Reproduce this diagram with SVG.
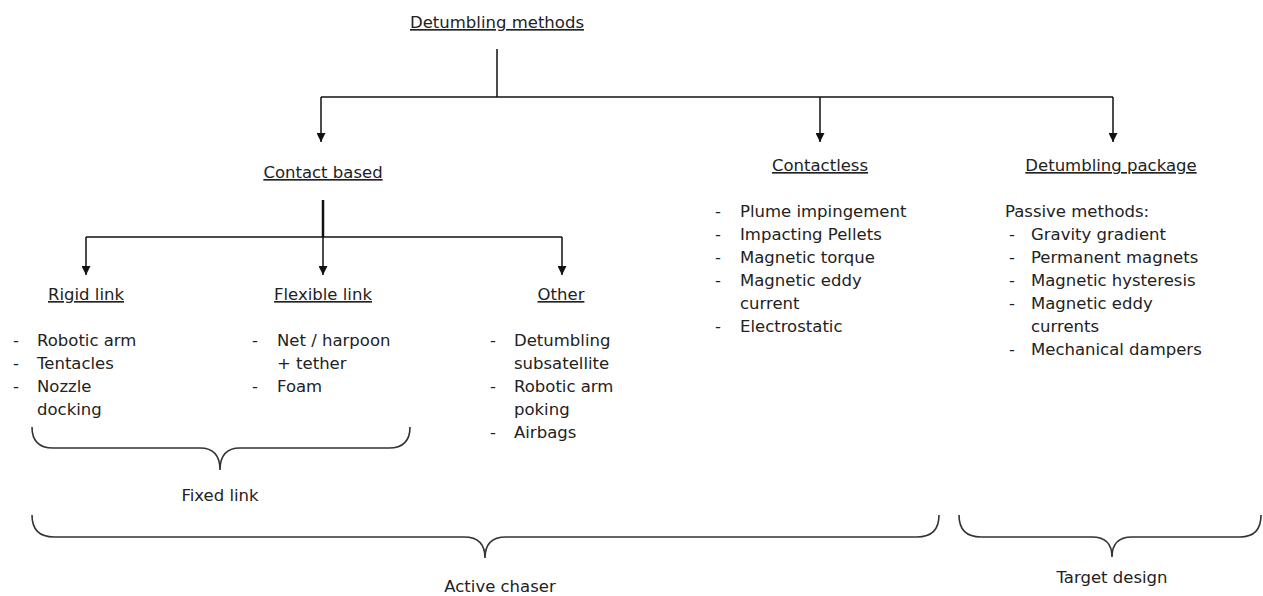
<svg xmlns="http://www.w3.org/2000/svg" width="1263" height="596" viewBox="0 0 1263 596">
<style>
text{font-family:"DejaVu Sans","Verdana",sans-serif;font-size:16.5px;fill:#222}
.h{text-anchor:middle;text-decoration:underline}
.c{text-anchor:middle}
.ln{stroke:#111;stroke-width:1.5;fill:none}
.br{stroke:#333;stroke-width:1.6;fill:none}
</style>
<defs>
<marker id="ah" viewBox="0 0 10 10" refX="10" refY="5" markerWidth="11" markerHeight="9" markerUnits="userSpaceOnUse" orient="auto">
<path d="M0,0 L10,5 L0,10 z" fill="#111"/>
</marker>
</defs>
<rect width="1263" height="596" fill="#fff"/>
<g id="connectors">
<path class="ln" d="M497,49 V97"/>
<path class="ln" d="M321,97 H1113"/>
<path class="ln" d="M321,97 V142" marker-end="url(#ah)"/>
<path class="ln" d="M820,97 V142" marker-end="url(#ah)"/>
<path class="ln" d="M1113,97 V142" marker-end="url(#ah)"/>
<path class="ln" d="M323,200 V237" style="stroke-width:2.5"/>
<path class="ln" d="M86,237 H562"/>
<path class="ln" d="M86,237 V275" marker-end="url(#ah)"/>
<path class="ln" d="M323,237 V275" marker-end="url(#ah)"/>
<path class="ln" d="M562,237 V275" marker-end="url(#ah)"/>
</g>
<g id="root"><text class="h" x="497" y="28">Detumbling methods</text></g>
<g id="contact-based"><text class="h" x="323" y="178">Contact based</text></g>
<g id="contactless">
<text class="h" x="820" y="171">Contactless</text>
<text x="715" y="217">-</text><text x="740" y="217">Plume impingement</text>
<text x="715" y="240">-</text><text x="740" y="240">Impacting Pellets</text>
<text x="715" y="263">-</text><text x="740" y="263">Magnetic torque</text>
<text x="715" y="286">-</text><text x="740" y="286">Magnetic eddy</text>
<text x="740" y="309">current</text>
<text x="715" y="332">-</text><text x="740" y="332">Electrostatic</text>
</g>
<g id="detumbling-package">
<text class="h" x="1111" y="171">Detumbling package</text>
<text x="1005" y="217">Passive methods:</text>
<text x="1009" y="240">-</text><text x="1031" y="240">Gravity gradient</text>
<text x="1009" y="263">-</text><text x="1031" y="263">Permanent magnets</text>
<text x="1009" y="286">-</text><text x="1031" y="286">Magnetic hysteresis</text>
<text x="1009" y="309">-</text><text x="1031" y="309">Magnetic eddy</text>
<text x="1031" y="332">currents</text>
<text x="1009" y="355">-</text><text x="1031" y="355">Mechanical dampers</text>
</g>
<g id="rigid-link">
<text class="h" x="86" y="300">Rigid link</text>
<text x="13" y="346">-</text><text x="37" y="346">Robotic arm</text>
<text x="13" y="369">-</text><text x="37" y="369">Tentacles</text>
<text x="13" y="392">-</text><text x="37" y="392">Nozzle</text>
<text x="37" y="415">docking</text>
</g>
<g id="flexible-link">
<text class="h" x="323" y="300">Flexible link</text>
<text x="252" y="346">-</text><text x="277" y="346">Net / harpoon</text>
<text x="277" y="369">+ tether</text>
<text x="252" y="392">-</text><text x="277" y="392">Foam</text>
</g>
<g id="other">
<text class="h" x="561" y="300">Other</text>
<text x="490" y="346">-</text><text x="514" y="346">Detumbling</text>
<text x="514" y="369">subsatellite</text>
<text x="490" y="392">-</text><text x="514" y="392">Robotic arm</text>
<text x="514" y="415">poking</text>
<text x="490" y="438">-</text><text x="514" y="438">Airbags</text>
</g>
<g id="fixed-link">
<path class="br" d="M32,427 Q32,448 53,448 L200,448 Q220,448 220,470 Q220,448 240,448 L389,448 Q410,448 410,427"/>
<text class="c" x="220" y="501">Fixed link</text>
</g>
<g id="active-chaser">
<path class="br" d="M32,515 Q32,537 54,537 L464,537 Q485,537 485,558 Q485,537 506,537 L917,537 Q939,537 939,515"/>
<text class="c" x="500" y="592">Active chaser</text>
</g>
<g id="target-design">
<path class="br" d="M959,515 Q959,537 981,537 L1092,537 Q1112,537 1112,557 Q1112,537 1132,537 L1240,537 Q1261,537 1261,515"/>
<text class="c" x="1112" y="583">Target design</text>
</g>
</svg>
